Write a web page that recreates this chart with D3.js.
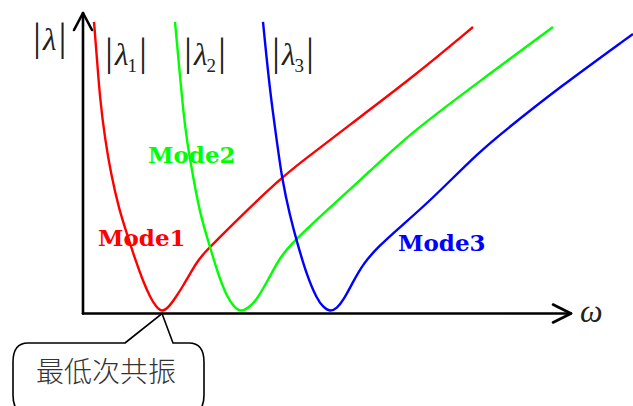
<!DOCTYPE html>
<html>
<head>
<meta charset="utf-8">
<script src="https://cdn.jsdelivr.net/npm/d3@7/dist/d3.min.js"></script>
<style>
  html, body { margin: 0; padding: 0; background: #fff; }
  svg { display: block; }
</style>
</head>
<body>
<svg id="chart" width="633" height="406"></svg>
<script>
// Dispersion branches: [omega, |lambda|] samples for each mode
const mode1 = [
  [2.2, 96.7], [2.8, 84.3], [3.4, 71], [4.4, 57.7], [5.6, 46], [7.2, 34.3],
  [8.8, 26], [10.4, 17.7], [12, 10.3], [13.4, 5], [14.6, 1.7], [15.8, 0],
  [17, 1.3], [18.6, 5], [20, 8.7], [21.4, 12.7], [22.8, 16.7], [24.4, 20],
  [26.4, 23.3], [31.4, 31.7], [39.4, 44.3], [43.4, 49.7], [52.8, 61.7],
  [66, 78.3], [78, 95]
];
const mode2 = [
  [18.4, 96.7], [19.4, 78.7], [20, 67.7], [20.8, 56.7], [22, 45.3], [23.4, 32.7],
  [25.4, 21.7], [27, 12.7], [28.8, 5], [30.2, 1.7], [31.6, 0], [33, 1.3],
  [34.6, 3.7], [36.8, 10], [39.4, 18.3], [42, 23.3], [48, 32.7], [57.4, 47],
  [66, 60.3], [79.4, 77], [94, 95]
];
const mode3 = [
  [36, 96.7], [37.4, 73.3], [38.8, 56.7], [39.8, 44.3], [41.4, 32], [42.8, 23.3],
  [44.8, 12], [46.8, 4.3], [48, 1.7], [49.4, 0], [50.8, 1.3], [52, 3.7],
  [54, 10], [56, 16], [59, 21.7], [63.4, 28.3], [69.4, 37], [79.4, 53.7],
  [84.8, 61], [94.8, 74.3], [110, 92.7]
];
const modeNames = ["Mode1", "Mode2", "Mode3"];
const modeColors = ["#ff0000", "#00ff00", "#0000ff"];
const branchSubs = ["1", "2", "3"];
const calloutText = "最低次共振";

const svg = d3.select("#chart");
const serif = "Liberation Serif, Times New Roman, serif";
const ink = "#222";

const x = d3.scaleLinear().domain([0, 110]).range([83, 633]);
const y = d3.scaleLinear().domain([0, 100]).range([312, 12]);

// axes with open arrowheads
const x0 = x(0), y0 = y(0) + 1.5;
const xEnd = 571, yTop = 13;
const axes = svg.append("g").attr("fill", "none").attr("stroke", "#000")
  .attr("stroke-width", 2.6).attr("stroke-linecap", "round").attr("stroke-linejoin", "round");
axes.append("path").attr("d", `M${x0},${y0} L${x0},${yTop}`);
axes.append("path").attr("d", `M${x0 - 9},${yTop + 17} L${x0},${yTop} L${x0 + 9},${yTop + 17}`);
axes.append("path").attr("d", `M${x0},${y0} L${xEnd},${y0}`);
axes.append("path").attr("d", `M${xEnd - 18},${y0 - 9} L${xEnd},${y0} L${xEnd - 18},${y0 + 9}`);

// curves
const line = d3.line()
  .x(d => x(d[0]))
  .y(d => y(d[1]))
  .curve(d3.curveBasis);

[mode1, mode2, mode3].forEach((data, i) => {
  svg.append("path")
    .datum(data)
    .attr("fill", "none")
    .attr("stroke", modeColors[i])
    .attr("stroke-width", 2.4)
    .attr("stroke-linejoin", "round")
    .attr("d", line);
});

// mode labels
const modeLabelPos = [[98, 246], [148, 163], [398, 251]];
modeNames.forEach((name, i) => {
  svg.append("text")
    .attr("x", modeLabelPos[i][0])
    .attr("y", modeLabelPos[i][1])
    .attr("font-family", "DejaVu Serif")
    .attr("font-weight", "bold")
    .attr("font-size", 23)
    .attr("fill", modeColors[i])
    .text(name);
});

// |lambda| labels, each one text element built from tspans
function absLabel(left, base, sub) {
  const t = svg.append("text").attr("font-family", serif).attr("fill", ink)
    .attr("x", left).attr("y", base);
  t.append("tspan").attr("font-size", 40).text("|");
  t.append("tspan").attr("font-style", "italic").attr("font-size", 31).attr("dx", 2).text("λ");
  if (sub) {
    t.append("tspan").attr("font-size", 19).attr("dx", -1).attr("dy", 7).text(sub);
    t.append("tspan").attr("font-size", 40).attr("dx", 2).attr("dy", -7).text("|");
  } else {
    t.append("tspan").attr("font-size", 40).attr("dx", 2).text("|");
  }
}
absLabel(33, 50, null);
absLabel(105, 65, branchSubs[0]);
absLabel(184, 65, branchSubs[1]);
absLabel(272, 65, branchSubs[2]);

// omega axis label
svg.append("text")
  .attr("x", 580).attr("y", 322)
  .attr("font-family", serif)
  .attr("font-style", "italic")
  .attr("font-size", 32)
  .attr("fill", ink)
  .text("ω");

// callout pointing at the lowest resonance
const tipX = x(mode1[11][0]), tipY = y0;
const L = 13, R = 204, T = 343, B = 414, rx = 15, ry = 19;
svg.append("path")
  .attr("fill", "#fff")
  .attr("stroke", "#000")
  .attr("stroke-width", 1.6)
  .attr("d", `M125,${T} L${tipX},${tipY} L173,${T} L${R - rx},${T}
    Q${R},${T} ${R},${T + ry} L${R},${B - ry} Q${R},${B} ${R - rx},${B}
    L${L + rx},${B} Q${L},${B} ${L},${B - ry} L${L},${T + ry} Q${L},${T} ${L + rx},${T} Z`);
svg.append("text")
  .attr("x", 106).attr("y", 382)
  .attr("text-anchor", "middle")
  .attr("font-family", "Noto Sans CJK SC")
  .attr("font-weight", 300)
  .attr("font-size", 28)
  .attr("fill", "#333")
  .text(calloutText);
</script>
</body>
</html>
